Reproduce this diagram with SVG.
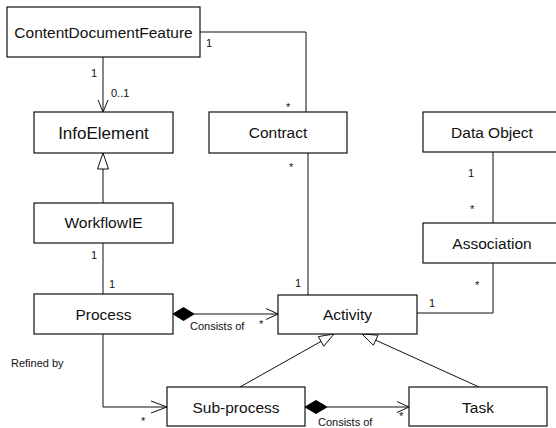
<svg xmlns="http://www.w3.org/2000/svg" width="556" height="428" viewBox="0 0 556 428">
<style>
.box{fill:#fff;stroke:#111;stroke-width:1.2}
.lbl{font-family:"Liberation Sans",Arial,sans-serif;font-size:15.5px;fill:#111;text-anchor:middle}
.sm{font-family:"Liberation Sans",Arial,sans-serif;font-size:11px;fill:#111}
.ln{fill:none;stroke:#111;stroke-width:1}
.tri{fill:#fff;stroke:#111;stroke-width:1}
.dia{fill:#000;stroke:#000;stroke-width:1}
</style>
<rect width="556" height="428" fill="#fff"/>
<g id="connectors">
  <polyline class="ln" points="200,32 306,32 306,112"/>
  <line class="ln" x1="103" y1="57" x2="103" y2="112"/>
  <polyline class="ln" points="98,100 103,112 108,100"/>
  <line class="ln" x1="103" y1="203" x2="103" y2="169"/>
  <polygon class="tri" points="103,153 97.5,169 108.5,169"/>
  <line class="ln" x1="103" y1="243" x2="103" y2="294"/>
  <line class="ln" x1="308" y1="153" x2="308" y2="295"/>
  <line class="ln" x1="493" y1="152" x2="493" y2="223"/>
  <polyline class="ln" points="493,263 493,313 417,313"/>
  <line class="ln" x1="194" y1="314" x2="278" y2="314"/>
  <polygon class="dia" points="173,314 183.5,307.5 194,314 183.5,320.5"/>
  <polyline class="ln" points="266,308.5 278,314 266,319.5"/>
  <polyline class="ln" points="103,334 103,407 167,407"/>
  <polyline class="ln" points="151,401 167,407 151,413"/>
  <line class="ln" x1="327" y1="407" x2="409" y2="407"/>
  <polygon class="dia" points="305,407 316,400.5 327,407 316,413.5"/>
  <polyline class="ln" points="397,401.5 409,407 397,412.5"/>
  <line class="ln" x1="240" y1="387" x2="321" y2="341.4"/>
  <polygon class="tri" points="334,334 318.3,336.6 323.7,346.2"/>
  <line class="ln" x1="479" y1="387" x2="375.7" y2="340.2"/>
  <polygon class="tri" points="362,334 378,335.2 373.4,345.2"/>
</g>
<g id="ContentDocumentFeature">
  <rect class="box" x="7" y="7" width="193" height="50"/>
  <text class="lbl" x="103.5" y="37.5">ContentDocumentFeature</text>
</g>
<g id="InfoElement">
  <rect class="box" x="34" y="112" width="139" height="41"/>
  <text class="lbl" x="103.5" y="138.5" style="font-size:17px">InfoElement</text>
</g>
<g id="Contract">
  <rect class="box" x="209" y="112" width="138" height="41"/>
  <text class="lbl" x="278" y="138">Contract</text>
</g>
<g id="DataObject">
  <rect class="box" x="423" y="112" width="138" height="40"/>
  <text class="lbl" x="492" y="137.5">Data Object</text>
</g>
<g id="WorkflowIE">
  <rect class="box" x="34" y="203" width="139" height="40"/>
  <text class="lbl" x="103.5" y="228">WorkflowIE</text>
</g>
<g id="Association">
  <rect class="box" x="423" y="223" width="138" height="40"/>
  <text class="lbl" x="492" y="248.5">Association</text>
</g>
<g id="Process">
  <rect class="box" x="34" y="294" width="139" height="40"/>
  <text class="lbl" x="103.5" y="319.5">Process</text>
</g>
<g id="Activity">
  <rect class="box" x="278" y="295" width="139" height="39"/>
  <text class="lbl" x="347.5" y="320">Activity</text>
</g>
<g id="Sub-process">
  <rect class="box" x="167" y="387" width="138" height="39"/>
  <text class="lbl" x="236" y="412.5">Sub-process</text>
</g>
<g id="Task">
  <rect class="box" x="409" y="387" width="138" height="39"/>
  <text class="lbl" x="478" y="412.5">Task</text>
</g>
<g id="labels">
  <text class="sm" x="206" y="47">1</text>
  <text class="sm" x="91" y="77">1</text>
  <text class="sm" x="111" y="97">0..1</text>
  <text class="sm" x="286" y="111">*</text>
  <text class="sm" x="289" y="171">*</text>
  <text class="sm" x="295" y="287">1</text>
  <text class="sm" x="468" y="177">1</text>
  <text class="sm" x="470" y="213">*</text>
  <text class="sm" x="475" y="289">*</text>
  <text class="sm" x="429" y="307">1</text>
  <text class="sm" x="91" y="259">1</text>
  <text class="sm" x="109" y="288">1</text>
  <text class="sm" x="190" y="330">Consists of</text>
  <text class="sm" x="259" y="328">*</text>
  <text class="sm" x="11" y="367">Refined by</text>
  <text class="sm" x="141" y="425">*</text>
  <text class="sm" x="318" y="426">Consists of</text>
  <text class="sm" x="399" y="420">*</text>
</g>
</svg>
